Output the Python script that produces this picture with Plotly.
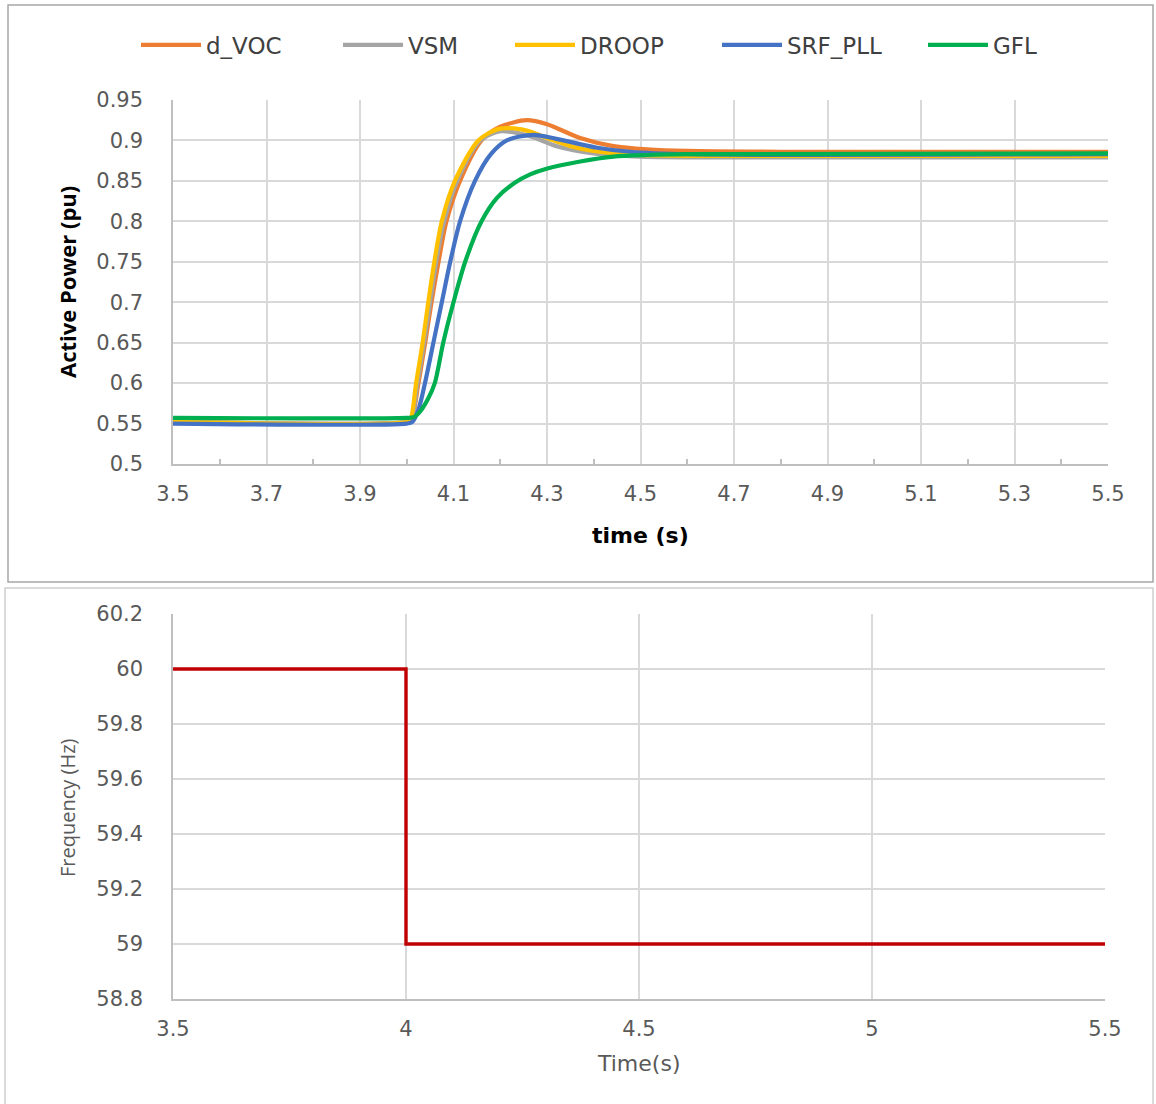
import plotly.graph_objects as go

W, H = 1156, 1104

# ---------------- data: active power (pu) ----------------
t_dvoc = [3.5, 4.0, 4.010, 4.025, 4.040, 4.053, 4.068, 4.085, 4.114, 4.160, 4.200, 4.257, 4.300, 4.371, 4.442, 4.514, 4.600, 4.800, 5.5]
p_dvoc = [0.552, 0.552, 0.555, 0.600, 0.652, 0.700, 0.750, 0.800, 0.850, 0.900, 0.917, 0.925, 0.920, 0.903, 0.893, 0.889, 0.887, 0.886, 0.886]

t_vsm = [3.5, 4.0, 4.010, 4.023, 4.037, 4.050, 4.063, 4.080, 4.108, 4.157, 4.197, 4.230, 4.270, 4.320, 4.400, 4.500, 4.700, 5.5]
p_vsm = [0.552, 0.552, 0.555, 0.600, 0.650, 0.700, 0.750, 0.800, 0.850, 0.900, 0.911, 0.910, 0.904, 0.893, 0.884, 0.880, 0.879, 0.879]

t_droop = [3.5, 4.0, 4.008, 4.020, 4.034, 4.046, 4.059, 4.075, 4.103, 4.153, 4.195, 4.230, 4.264, 4.300, 4.350, 4.400, 4.500, 4.600, 5.5]
p_droop = [0.552, 0.552, 0.555, 0.600, 0.650, 0.700, 0.750, 0.800, 0.850, 0.900, 0.914, 0.915, 0.911, 0.903, 0.893, 0.887, 0.882, 0.881, 0.881]

t_srf = [3.5, 4.0, 4.012, 4.025, 4.039, 4.057, 4.075, 4.093, 4.114, 4.146, 4.180, 4.214, 4.271, 4.320, 4.407, 4.478, 4.600, 5.5]
p_srf = [0.550, 0.550, 0.552, 0.567, 0.600, 0.650, 0.700, 0.750, 0.800, 0.850, 0.883, 0.900, 0.907, 0.902, 0.891, 0.886, 0.883, 0.883]

t_gfl = [3.5, 4.0, 4.015, 4.030, 4.045, 4.060, 4.078, 4.100, 4.125, 4.160, 4.193, 4.232, 4.264, 4.299, 4.371, 4.442, 4.514, 4.600, 5.5]
p_gfl = [0.557, 0.557, 0.558, 0.566, 0.580, 0.600, 0.650, 0.700, 0.750, 0.800, 0.829, 0.848, 0.858, 0.865, 0.874, 0.880, 0.882, 0.883, 0.884]

series_names = ["d_VOC", "VSM", "DROOP", "SRF_PLL", "GFL"]
series_colors = ["#ED7D31", "#A5A5A5", "#FFC000", "#4472C4", "#00B050"]

# ---------------- data: frequency (Hz) ----------------
t_freq = [3.5, 4.0, 4.0, 5.5]
f_freq = [60.0, 60.0, 59.0, 59.0]

# ---------------- tick labels ----------------
p_tickvals = [0.5, 0.55, 0.6, 0.65, 0.7, 0.75, 0.8, 0.85, 0.9, 0.95]
p_ticktext = ["0.5", "0.55", "0.6", "0.65", "0.7", "0.75", "0.8", "0.85", "0.9", "0.95"]
t1_tickvals = [3.5, 3.7, 3.9, 4.1, 4.3, 4.5, 4.7, 4.9, 5.1, 5.3, 5.5]
t1_ticktext = ["3.5", "3.7", "3.9", "4.1", "4.3", "4.5", "4.7", "4.9", "5.1", "5.3", "5.5"]
t1_minorvals = [3.6, 3.8, 4.0, 4.2, 4.4, 4.6, 4.8, 5.0, 5.2, 5.4]
f_tickvals = [58.8, 59.0, 59.2, 59.4, 59.6, 59.8, 60.0, 60.2]
f_ticktext = ["58.8", "59", "59.2", "59.4", "59.6", "59.8", "60", "60.2"]
t2_tickvals = [3.5, 4.0, 4.5, 5.0, 5.5]
t2_ticktext = ["3.5", "4", "4.5", "5", "5.5"]

# ---------------- figure ----------------
fig = go.Figure()

legend_ids = ["legend", "legend2", "legend3", "legend4", "legend5"]
legend_left_px = [136, 338, 510, 717, 923]   # left edge of each legend entry

xs = [t_dvoc, t_vsm, t_droop, t_srf, t_gfl]
ys = [p_dvoc, p_vsm, p_droop, p_srf, p_gfl]
for name, color, x, y, lg in zip(series_names, series_colors, xs, ys, legend_ids):
    fig.add_trace(go.Scatter(
        x=x, y=y, name=name, mode="lines", legend=lg,
        line=dict(color=color, width=4.2, shape="spline", smoothing=0.8),
        xaxis="x", yaxis="y",
    ))

fig.add_trace(go.Scatter(
    x=t_freq, y=f_freq, name="Frequency", mode="lines", showlegend=False,
    line=dict(color="#C00000", width=3.4),
    xaxis="x2", yaxis="y2",
))

def px_x(p):
    return p / W

def px_y(p):
    return 1 - p / H

grid = "#D9D9D9"
axline = "#BFBFBF"
FONT = "Open Sans, DejaVu Sans, sans-serif"
WIDE = "DejaVu Sans, Verdana, sans-serif"
tickfont = dict(family=WIDE, size=21, color="#595959")

legend_common = dict(
    orientation="h",
    xanchor="left",
    y=px_y(45), yanchor="middle",
    font=dict(family=WIDE, size=23, color="#404040"),
    itemwidth=60,
    bgcolor="rgba(0,0,0,0)",
)

layout_legends = {}
for lg, lx in zip(legend_ids, legend_left_px):
    layout_legends[lg] = dict(legend_common, x=px_x(lx))

fig.update_layout(
    width=W, height=H,
    margin=dict(l=0, r=0, t=0, b=0, pad=0, autoexpand=False),
    paper_bgcolor="white", plot_bgcolor="white",
    showlegend=True,
    **layout_legends,
    xaxis=dict(
        domain=[px_x(173), px_x(1108)],
        range=[3.5, 5.5], anchor="y",
        tickvals=t1_tickvals, ticktext=t1_ticktext,
        showgrid=True, gridcolor=grid, gridwidth=1.5,
        showline=True, linecolor=axline, linewidth=1.5,
        ticks="", tickfont=tickfont, ticklabelstandoff=10,
        minor=dict(tickvals=t1_minorvals,
                   ticks="inside", ticklen=5, tickcolor=axline, tickwidth=1.5, showgrid=False),
        zeroline=False,
    ),
    yaxis=dict(
        domain=[px_y(464), px_y(100)],
        range=[0.5, 0.95], anchor="x",
        tickvals=p_tickvals, ticktext=p_ticktext,
        showgrid=True, gridcolor=grid, gridwidth=1.5,
        showline=True, linecolor=axline, linewidth=1.5,
        ticks="", tickfont=tickfont, ticklabelstandoff=24,
        zeroline=False,
    ),
    xaxis2=dict(
        domain=[px_x(173), px_x(1105)],
        range=[3.5, 5.5], anchor="y2",
        tickvals=t2_tickvals, ticktext=t2_ticktext,
        showgrid=True, gridcolor=grid, gridwidth=1.5,
        showline=True, linecolor=axline, linewidth=1.5,
        ticks="", tickfont=tickfont, ticklabelstandoff=10,
        zeroline=False,
    ),
    yaxis2=dict(
        domain=[px_y(999), px_y(614)],
        range=[58.8, 60.2], anchor="x2",
        tickvals=f_tickvals, ticktext=f_ticktext,
        showgrid=True, gridcolor=grid, gridwidth=1.5,
        showline=True, linecolor=axline, linewidth=1.5,
        ticks="", tickfont=tickfont, ticklabelstandoff=24,
        zeroline=False,
    ),
    shapes=[
        dict(type="rect", xref="paper", yref="paper",
             x0=px_x(8), x1=px_x(1153), y0=px_y(582), y1=px_y(5),
             line=dict(color="#A6A6A6", width=1.5), fillcolor="rgba(0,0,0,0)", layer="below"),
        dict(type="rect", xref="paper", yref="paper",
             x0=px_x(5), x1=px_x(1153), y0=px_y(1110), y1=px_y(588),
             line=dict(color="#D0D0D0", width=1.5), fillcolor="rgba(0,0,0,0)", layer="below"),
    ],
    annotations=[
        dict(text="<b>Active Power (pu)</b>", xref="paper", yref="paper",
             x=px_x(67), y=px_y(282), xanchor="center", yanchor="middle",
             textangle=-90, showarrow=False,
             font=dict(family=FONT, size=22, color="#000000")),
        dict(text="<b>time (s)</b>", xref="paper", yref="paper",
             x=px_x(640), y=px_y(535), xanchor="center", yanchor="middle",
             showarrow=False,
             font=dict(family=WIDE, size=22, color="#000000")),
        dict(text="Frequency (Hz)", xref="paper", yref="paper",
             x=px_x(67), y=px_y(808), xanchor="center", yanchor="middle",
             textangle=-90, showarrow=False,
             font=dict(family=FONT, size=20, color="#595959")),
        dict(text="Time(s)", xref="paper", yref="paper",
             x=px_x(638), y=px_y(1063), xanchor="center", yanchor="middle",
             showarrow=False,
             font=dict(family=WIDE, size=22, color="#595959")),
    ],
)

fig.write_html("out.html")
